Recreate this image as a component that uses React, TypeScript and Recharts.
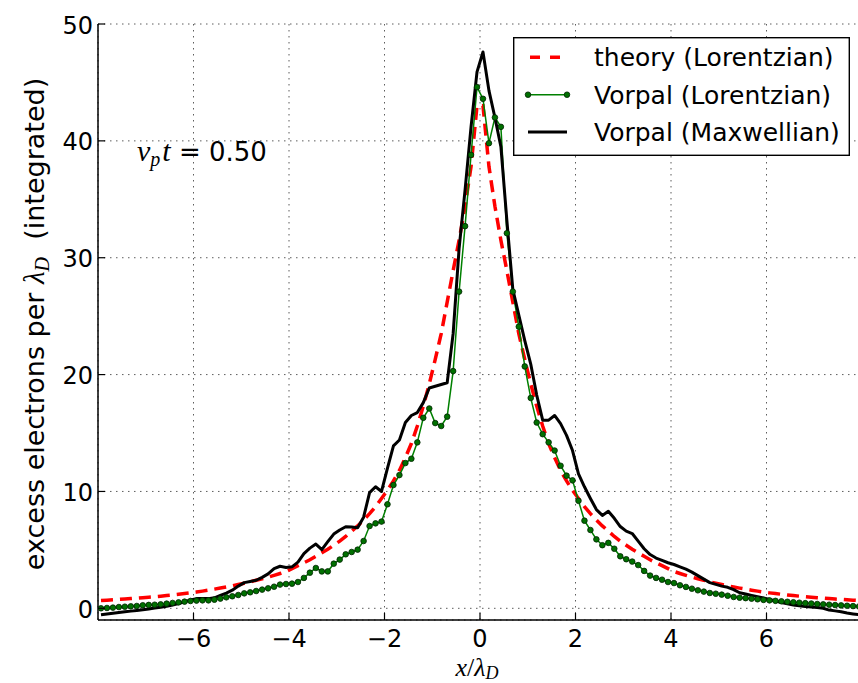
import { CartesianGrid, Line, LineChart, XAxis, YAxis } from 'recharts';

// cell centres, spacing 1/8
const X_CELLS = [
  -7.9375, -7.8125, -7.6875, -7.5625, -7.4375, -7.3125, -7.1875, -7.0625,
  -6.9375, -6.8125, -6.6875, -6.5625, -6.4375, -6.3125, -6.1875, -6.0625,
  -5.9375, -5.8125, -5.6875, -5.5625, -5.4375, -5.3125, -5.1875, -5.0625,
  -4.9375, -4.8125, -4.6875, -4.5625, -4.4375, -4.3125, -4.1875, -4.0625,
  -3.9375, -3.8125, -3.6875, -3.5625, -3.4375, -3.3125, -3.1875, -3.0625,
  -2.9375, -2.8125, -2.6875, -2.5625, -2.4375, -2.3125, -2.1875, -2.0625,
  -1.9375, -1.8125, -1.6875, -1.5625, -1.4375, -1.3125, -1.1875, -1.0625,
  -0.9375, -0.8125, -0.6875, -0.5625, -0.4375, -0.3125, -0.1875, -0.0625,
  0.0625, 0.1875, 0.3125, 0.4375, 0.5625, 0.6875, 0.8125, 0.9375,
  1.0625, 1.1875, 1.3125, 1.4375, 1.5625, 1.6875, 1.8125, 1.9375,
  2.0625, 2.1875, 2.3125, 2.4375, 2.5625, 2.6875, 2.8125, 2.9375,
  3.0625, 3.1875, 3.3125, 3.4375, 3.5625, 3.6875, 3.8125, 3.9375,
  4.0625, 4.1875, 4.3125, 4.4375, 4.5625, 4.6875, 4.8125, 4.9375,
  5.0625, 5.1875, 5.3125, 5.4375, 5.5625, 5.6875, 5.8125, 5.9375,
  6.0625, 6.1875, 6.3125, 6.4375, 6.5625, 6.6875, 6.8125, 6.9375,
  7.0625, 7.1875, 7.3125, 7.4375, 7.5625, 7.6875, 7.8125, 7.9375,
];

const THEORY = [
  0.67, 0.7, 0.73, 0.76, 0.79, 0.83, 0.87, 0.91,
  0.95, 0.99, 1.04, 1.09, 1.14, 1.2, 1.26, 1.32,
  1.39, 1.47, 1.55, 1.64, 1.73, 1.83, 1.93, 2.04,
  2.15, 2.27, 2.4, 2.53, 2.67, 2.82, 2.98, 3.15,
  3.4, 3.65, 3.9, 4.15, 4.45, 4.75, 5.05, 5.4,
  5.75, 6.15, 6.6, 7.05, 7.55, 8.1, 8.7, 9.4,
  10.1, 10.9, 11.8, 12.9, 14.1, 15.6, 17.3, 19.2,
  21.3, 23.5, 26.2, 28.9, 31.5, 34.4, 37.8, 43.0,
  43.0, 37.8, 34.4, 31.5, 28.9, 26.2, 23.5, 21.3,
  19.2, 17.3, 15.6, 14.1, 12.9, 11.8, 10.9, 10.1,
  9.4, 8.7, 8.1, 7.55, 7.05, 6.6, 6.15, 5.75,
  5.4, 5.05, 4.75, 4.45, 4.15, 3.9, 3.65, 3.4,
  3.15, 2.98, 2.82, 2.67, 2.53, 2.4, 2.27, 2.15,
  2.04, 1.93, 1.83, 1.73, 1.64, 1.55, 1.47, 1.39,
  1.32, 1.26, 1.2, 1.14, 1.09, 1.04, 0.99, 0.95,
  0.91, 0.87, 0.83, 0.79, 0.76, 0.73, 0.7, 0.67,
];

const VORPAL_LOR = [
  0.0, 0.03, 0.06, 0.11, 0.14, 0.17, 0.2, 0.26,
  0.29, 0.31, 0.34, 0.4, 0.46, 0.51, 0.57, 0.63,
  0.66, 0.68, 0.68, 0.74, 0.83, 0.94, 1.03, 1.14,
  1.28, 1.37, 1.48, 1.6, 1.71, 1.85, 2.03, 2.08,
  2.11, 2.25, 2.6, 3.05, 3.45, 3.16, 3.16, 3.82,
  4.17, 4.62, 4.82, 5.02, 5.76, 7.04, 7.27, 7.42,
  8.9, 10.55, 11.4, 12.43, 12.8, 14.2, 16.3, 17.1,
  15.85, 15.6, 16.4, 20.3, 27.1, 32.7, 38.8, 44.6,
  43.6, 39.8, 42.0, 41.2, 32.1, 27.1, 24.1, 20.7,
  18.0, 15.9, 14.9, 14.2, 13.5, 12.2, 11.35, 10.95,
  9.2, 7.5, 6.7, 5.9, 5.4, 5.6, 5.1, 4.45,
  4.2, 4.0, 3.7, 3.2, 2.8, 2.6, 2.45, 2.25,
  2.16, 1.97, 1.83, 1.68, 1.54, 1.43, 1.31, 1.25,
  1.17, 1.08, 0.97, 0.91, 0.87, 0.82, 0.77, 0.72,
  0.68, 0.64, 0.6, 0.56, 0.52, 0.48, 0.44, 0.41,
  0.37, 0.34, 0.31, 0.28, 0.25, 0.22, 0.19, 0.16,
];

const VORPAL_MAX = [
  -0.55, -0.48, -0.42, -0.36, -0.3, -0.24, -0.18, -0.12,
  -0.05, 0.02, 0.1, 0.18, 0.28, 0.4, 0.55, 0.72,
  0.83, 0.83, 0.83, 0.9, 1.1, 1.3, 1.55, 1.9,
  2.2, 2.3, 2.4, 2.65, 2.95, 3.4, 3.6, 3.5,
  3.55, 3.95, 4.68, 5.15, 5.5, 5.02, 5.7, 6.35,
  6.7, 6.98, 6.95, 6.9, 7.8, 9.9, 10.4, 10.0,
  12.0, 13.9, 14.4, 15.9, 16.5, 16.75, 17.6, 18.85,
  19.0, 19.15, 19.3, 23.5, 30.8, 35.8, 41.2, 45.9,
  47.6, 44.3, 42.0, 39.5, 33.2, 27.3, 25.1, 22.9,
  20.9, 18.25, 16.1, 16.1, 16.5, 15.8, 14.8, 13.5,
  11.5, 10.4, 9.4, 8.45, 7.95, 8.3, 7.7, 7.0,
  6.6, 6.4, 5.75, 5.1, 4.6, 4.3, 4.1, 3.9,
  3.75, 3.55, 3.35, 3.1, 2.8, 2.5, 2.2, 2.05,
  1.9, 1.8, 1.6, 1.33, 1.22, 1.11, 1.0, 0.88,
  0.75, 0.62, 0.5, 0.38, 0.29, 0.22, 0.16, 0.12,
  0.06, 0.0, -0.15, -0.22, -0.3, -0.4, -0.48, -0.55,
];

const X_TICKS = [-6, -4, -2, 0, 2, 4, 6];
const Y_TICKS = [0, 10, 20, 30, 40, 50];

const SERIES = [
  { key: 'theory', label: 'theory (Lorentzian)', color: '#ff0000' },
  { key: 'lor', label: 'Vorpal (Lorentzian)', color: '#008000' },
  { key: 'max', label: 'Vorpal (Maxwellian)', color: '#000000' },
];

const FONT = '"DejaVu Sans", sans-serif';
const MATH = '"Liberation Serif", serif';
const TICK_LEN = 7;

const data = X_CELLS.map((x, i) => ({
  x,
  theory: THEORY[i],
  lor: VORPAL_LOR[i],
  max: VORPAL_MAX[i],
}));

const fmt = (v: number) => String(v).replace('-', '\u2212');

function BottomTick({ x, y, payload }: any) {
  return (
    <g>
      <line x1={x} x2={x} y1={y} y2={y - TICK_LEN} stroke="#000" strokeWidth={1.2} />
      <text x={x} y={y + 27} textAnchor="middle" fontFamily={FONT} fontSize={24} fill="#000">
        {fmt(payload.value)}
      </text>
    </g>
  );
}

function TopTick({ x, y }: any) {
  return <line x1={x} x2={x} y1={y} y2={y + TICK_LEN} stroke="#000" strokeWidth={1.2} />;
}

function LeftTick({ x, y, payload }: any) {
  return (
    <g>
      <line x1={x} x2={x + TICK_LEN} y1={y} y2={y} stroke="#000" strokeWidth={1.2} />
      <text x={x - 5} y={y + 9.5} textAnchor="end" fontFamily={FONT} fontSize={24} fill="#000">
        {fmt(payload.value)}
      </text>
    </g>
  );
}

function RightTick({ x, y }: any) {
  return <line x1={x} x2={x - TICK_LEN} y1={y} y2={y} stroke="#000" strokeWidth={1.2} />;
}

function XLabel({ viewBox }: any) {
  const cx = viewBox.x + viewBox.width / 2 - 3;
  return (
    <text x={cx} y={viewBox.y + 56} textAnchor="middle" fontFamily={MATH} fontSize={26} fill="#000">
      <tspan fontStyle="italic">x</tspan>
      <tspan>/</tspan>
      <tspan fontStyle="italic">λ</tspan>
      <tspan fontStyle="italic" fontSize={18} dy={3}>D</tspan>
    </text>
  );
}

function YLabel({ viewBox }: any) {
  const bx = 44;
  const cy = viewBox.y + viewBox.height / 2 + 2;
  return (
    <text
      x={bx}
      y={cy}
      transform={`rotate(-90 ${bx} ${cy})`}
      textAnchor="middle"
      fontFamily={FONT}
      fontSize={27}
      fill="#000"
    >
      <tspan>excess electrons per </tspan>
      <tspan fontFamily={MATH} fontStyle="italic" fontSize={29}>λ</tspan>
      <tspan fontFamily={MATH} fontStyle="italic" fontSize={20} dy={5}>D</tspan>
      <tspan dy={-5}>{'\u00a0\u00a0(integrated)'}</tspan>
    </text>
  );
}

function LegendBox() {
  const rows = [20.3, 57.7, 95];
  return (
    <g transform="translate(513 37)">
      <rect x={0.7} y={0.7} width={335.6} height={117.6} fill="#fff" stroke="#000" strokeWidth={1.4} />
      <line x1={17} x2={48} y1={rows[0]} y2={rows[0]} stroke="#ff0000" strokeWidth={3.5} strokeDasharray="10 10" />
      <line x1={15} x2={54} y1={rows[1]} y2={rows[1]} stroke="#008000" strokeWidth={1.5} />
      <circle cx={15} cy={rows[1]} r={2.8} fill="#007000" stroke="#002200" strokeWidth={0.8} />
      <circle cx={54} cy={rows[1]} r={2.8} fill="#007000" stroke="#002200" strokeWidth={0.8} />
      <line x1={15} x2={54} y1={rows[2]} y2={rows[2]} stroke="#000" strokeWidth={3} />
      {SERIES.map((s, i) => (
        <text key={s.key} x={81} y={rows[i] + 9} fontFamily={FONT} fontSize={25} fill="#000">
          {s.label}
        </text>
      ))}
    </g>
  );
}

export default function App() {
  return (
    <div
      style={{
        position: 'fixed',
        left: 0,
        top: 0,
        width: 858,
        height: 683,
        overflow: 'hidden',
        background: '#fff',
      }}
    >
      <LineChart width={880} height={683} data={data} margin={{ top: 24, right: 18, left: 0, bottom: 0 }}>
        <CartesianGrid stroke="#333" strokeWidth={0.8} strokeDasharray="1.5 4.5" />
        <XAxis
          dataKey="x"
          type="number"
          domain={[-8, 8]}
          ticks={X_TICKS}
          interval={0}
          allowDataOverflow
          height={63}
          tickSize={0}
          tickMargin={0}
          tickLine={false}
          tick={<BottomTick />}
          axisLine={{ stroke: '#000', strokeWidth: 1.5 }}
          label={<XLabel />}
        />
        <XAxis
          xAxisId="top"
          orientation="top"
          type="number"
          domain={[-8, 8]}
          ticks={X_TICKS}
          interval={0}
          allowDataOverflow
          height={0}
          tickSize={0}
          tickMargin={0}
          tickLine={false}
          tick={<TopTick />}
          axisLine={{ stroke: '#000', strokeWidth: 1.5 }}
        />
        <YAxis
          type="number"
          domain={[-1, 50]}
          ticks={Y_TICKS}
          interval={0}
          allowDataOverflow
          width={98}
          tickSize={0}
          tickMargin={0}
          tickLine={false}
          tick={<LeftTick />}
          axisLine={{ stroke: '#000', strokeWidth: 1.5 }}
          label={<YLabel />}
        />
        <YAxis
          yAxisId="r"
          orientation="right"
          type="number"
          domain={[-1, 50]}
          ticks={Y_TICKS}
          interval={0}
          allowDataOverflow
          width={0}
          tickSize={0}
          tickMargin={0}
          tickLine={false}
          tick={<RightTick />}
          axisLine={{ stroke: '#000', strokeWidth: 1.5 }}
        />
        <Line
          type="linear"
          dataKey="theory"
          name={SERIES[0].label}
          stroke={SERIES[0].color}
          strokeWidth={3.5}
          strokeDasharray="12 7"
          dot={false}
          isAnimationActive={false}
        />
        <Line
          type="linear"
          dataKey="lor"
          name={SERIES[1].label}
          stroke={SERIES[1].color}
          strokeWidth={1.5}
          dot={{ r: 2.8, fill: '#007000', stroke: '#002200', strokeWidth: 0.8 }}
          isAnimationActive={false}
        />
        <Line
          type="linear"
          dataKey="max"
          name={SERIES[2].label}
          stroke={SERIES[2].color}
          strokeWidth={3}
          strokeLinejoin="round"
          dot={false}
          isAnimationActive={false}
        />
      </LineChart>
      <svg
        width={858}
        height={683}
        style={{ position: 'absolute', left: 0, top: 0, pointerEvents: 'none' }}
      >
        <LegendBox />
        <text x={137} y={161} fill="#000">
          <tspan fontFamily={MATH} fontStyle="italic" fontSize={30}>ν</tspan>
          <tspan fontFamily={MATH} fontStyle="italic" fontSize={20} dy={5}>p</tspan>
          <tspan fontFamily={MATH} fontStyle="italic" fontSize={30} dy={-5} dx={2}>t</tspan>
          <tspan fontFamily={FONT} fontSize={26}>{' = 0.50'}</tspan>
        </text>
      </svg>
    </div>
  );
}
